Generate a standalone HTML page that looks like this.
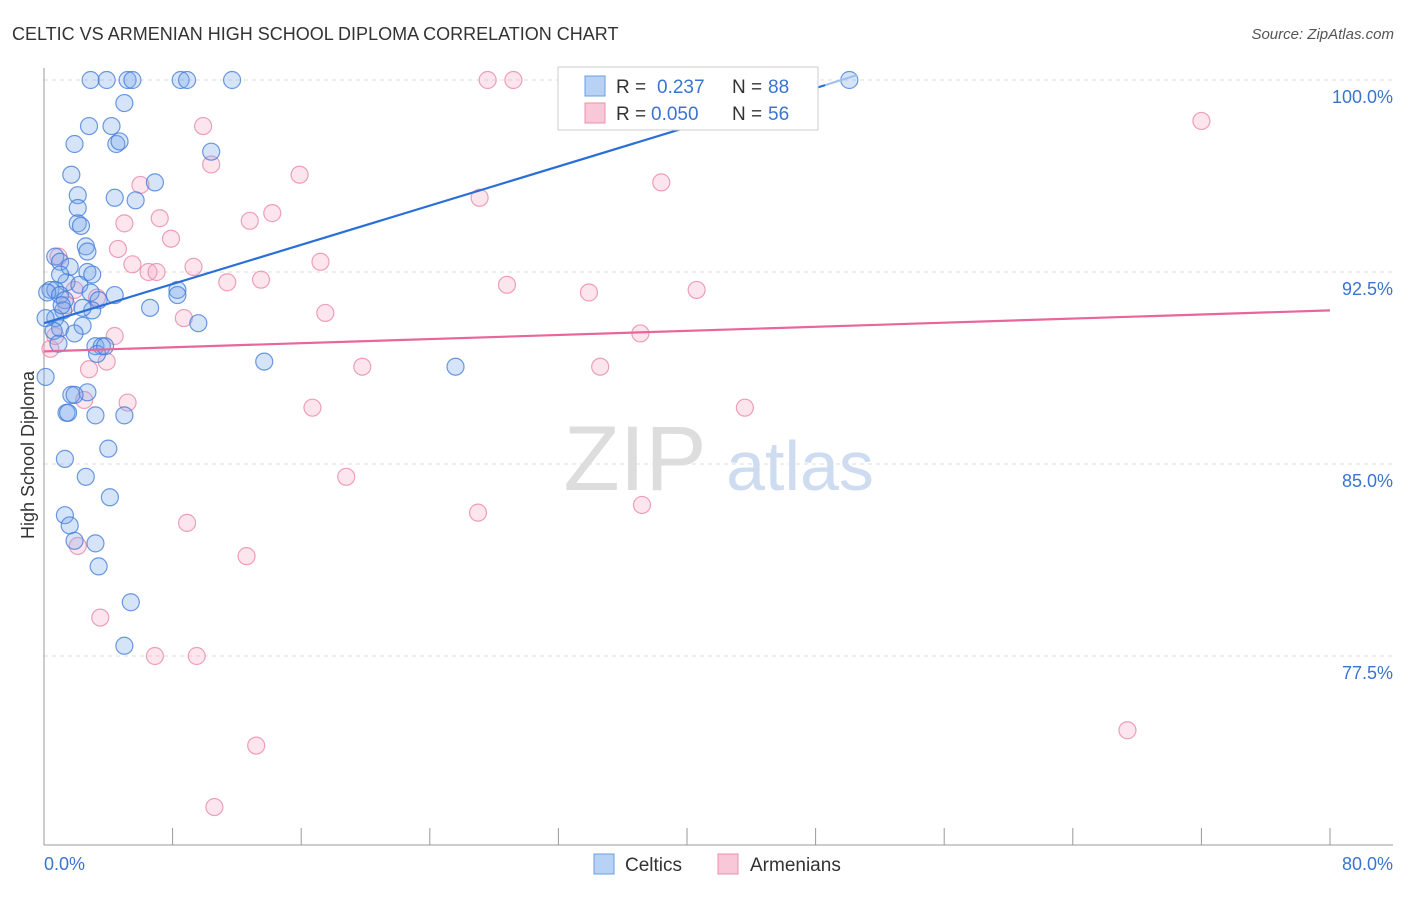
<!DOCTYPE html>
<html><head><meta charset="utf-8"><style>
body{margin:0;background:#fff;font-family:"Liberation Sans",sans-serif;}
svg text{font-family:"Liberation Sans",sans-serif;}
</style></head><body>
<svg id="c" width="1406" height="892" xmlns="http://www.w3.org/2000/svg">
<text x="12" y="40" font-size="18" fill="#333">CELTIC VS ARMENIAN HIGH SCHOOL DIPLOMA CORRELATION CHART</text>
<text x="1394" y="39" font-size="15" fill="#555" text-anchor="end" font-style="italic">Source: ZipAtlas.com</text>
<text x="34" y="455" font-size="18" fill="#333" text-anchor="middle" transform="rotate(-90 34 455)">High School Diploma</text>
<g><text x="635" y="490" font-size="92" fill="#ddd" font-family="Liberation Serif" text-anchor="middle">ZIP</text><text x="800" y="490" font-size="70" fill="#cddcf0" text-anchor="middle">atlas</text></g>
<g id="grid"></g><g id="marks"></g>
<g>
<rect x="558" y="67" width="260" height="63" fill="#fff" stroke="#ccc"/>
<rect x="585" y="76" width="20" height="20" fill="#b8d2f5" stroke="#6a9ee0"/>
<text x="616" y="93" font-size="19" fill="#333">R = </text><text x="657" y="93" font-size="19" fill="#3a74d0">0.237</text>
<text x="732" y="93" font-size="19" fill="#333">N = </text><text x="768" y="93" font-size="19" fill="#3a74d0">88</text>
<rect x="585" y="103" width="20" height="20" fill="#f9c8d8" stroke="#e890ac"/>
<text x="616" y="120" font-size="19" fill="#333">R = </text><text x="651" y="120" font-size="19" fill="#3a74d0">0.050</text>
<text x="732" y="120" font-size="19" fill="#333">N = </text><text x="768" y="120" font-size="19" fill="#3a74d0">56</text>
</g>
<g>
<rect x="594" y="854" width="20" height="20" fill="#b8d2f5" stroke="#6a9ee0"/><text x="625" y="871" font-size="19" fill="#333">Celtics</text>
<rect x="718" y="854" width="20" height="20" fill="#f9c8d8" stroke="#e890ac"/><text x="750" y="871" font-size="19" fill="#333">Armenians</text>
</g>
</svg>
<script>
const yTicks=[100,92.5,85,77.5];
const yTickLabels=["100.0%","92.5%","85.0%","77.5%"];
const xEndLabels=["0.0%","80.0%"];
const celticsX=[2.9,3.9,5.2,5.5,8.5,8.9,11.7,50.1,5.0,4.2,2.8,4.5,4.7,1.9,10.4,1.7,6.9,2.1,4.4,5.7,2.1,2.1,2.3,2.6,2.7,0.7,1.0,1.6,2.7,3.0,1.4,2.2,0.4,0.7,0.2,1.0,2.9,4.4,3.4,1.3,8.3,8.3,1.2,3.0,6.6,9.6,0.7,2.4,1.0,0.6,1.9,0.9,3.2,3.6,3.3,13.7,25.6,0.1,2.7,1.7,1.9,1.4,1.5,3.2,5.0,4.0,1.3,2.6,4.1,1.3,1.6,1.9,3.2,3.4,5.4,5.0,2.4,1.0,0.1,1.1,3.8];
const celticsY=[100,100,100,100,100,100,100,100,99.1,98.2,98.2,97.5,97.6,97.5,97.2,96.3,96.0,95.5,95.4,95.3,95.0,94.4,94.3,93.5,93.3,93.1,92.9,92.7,92.5,92.4,92.1,92.0,91.8,91.8,91.7,91.6,91.7,91.6,91.4,91.4,91.8,91.6,91.0,91.0,91.1,90.5,90.7,90.4,90.3,90.2,90.1,89.7,89.6,89.6,89.3,89.0,88.8,88.4,87.8,87.7,87.7,87.0,87.0,86.9,86.9,85.6,85.2,84.5,83.7,83.0,82.6,82.0,81.9,81.0,79.6,77.9,91.1,92.4,90.7,91.2,89.6];
const armX=[32.8,27.6,29.2,72.0,9.9,10.4,6.0,15.9,38.4,27.1,7.2,14.2,5.0,12.8,7.9,4.6,0.9,5.5,6.5,7.0,9.3,17.2,13.5,11.4,28.8,33.9,40.6,3.3,1.4,8.7,17.5,4.4,37.1,0.4,3.9,19.8,34.6,2.8,5.2,16.7,43.6,2.5,18.8,27.0,37.2,8.9,2.1,12.6,3.5,6.9,9.5,67.4,13.2,10.6,0.7,1.9];
const armY=[100,100,100,98.4,98.2,96.7,95.9,96.3,96.0,95.4,94.6,94.8,94.4,94.5,93.8,93.4,93.1,92.8,92.5,92.5,92.7,92.9,92.2,92.1,92.0,91.7,91.8,91.5,91.2,90.7,90.9,90.0,90.1,89.5,89.0,88.8,88.8,88.7,87.4,87.2,87.2,87.5,84.5,83.1,83.4,82.7,81.8,81.4,79.0,77.5,77.5,74.6,74.0,71.6,90.0,91.8];
const celticsTrend=[[0,90.5],[48.6,99.8]];
const celticsTrendExt=[[48.6,99.8],[50.6,100.2]];
const armTrend=[[0,89.4],[80,91.0]];
const NS="http://www.w3.org/2000/svg";
const X=v=>44+v/80*1286, Y=v=>80+(100-v)*25.6;
function mk(t,a,p){const e=document.createElementNS(NS,t);for(const k in a)e.setAttribute(k,a[k]);p.appendChild(e);return e;}
const g=document.getElementById('grid'), m=document.getElementById('marks');
yTicks.forEach((t,i)=>{
 const l=mk('line',{x1:44,x2:1393,y1:Y(t),y2:Y(t),stroke:'#ddd','stroke-dasharray':'4,4'},g);
 
 
 const tx=mk('text',{x:1393,y:Y(t)+23,'font-size':18,fill:'#3a74d0','text-anchor':'end'},g);tx.textContent=yTickLabels[i];
 
 
});
const ax=mk('line',{x1:44,x2:44,y1:68,y2:845,stroke:'#999'},g);


const bx=mk('line',{x1:44,x2:1393,y1:845,y2:845,stroke:'#999'},g);


for(let i=1;i<=10;i++){const t=mk('line',{x1:X(i*8),x2:X(i*8),y1:828,y2:845,stroke:'#999'},g);
 
 }
[[0,'start'],[80,'end']].forEach((d,i)=>{const t=mk('text',{x:d[0]?1393:44,y:870,'font-size':18,fill:'#3a74d0','text-anchor':d[1]},g);t.textContent=xEndLabels[i];
 
 });
armX.forEach((v,i)=>{const c=mk('circle',{cx:X(v),cy:Y(armY[i]),r:8.5,fill:'rgba(244,160,190,0.28)',stroke:'rgba(232,130,165,0.75)','stroke-width':1.2},m);
 
 });
celticsX.forEach((v,i)=>{const c=mk('circle',{cx:X(v),cy:Y(celticsY[i]),r:8.5,fill:'rgba(120,165,235,0.3)',stroke:'rgba(60,120,215,0.75)','stroke-width':1.2},m);
 
 });
const t1=mk('line',{x1:X(celticsTrend[0][0]),y1:Y(celticsTrend[0][1]),x2:X(celticsTrend[1][0]),y2:Y(celticsTrend[1][1]),stroke:'#2a6fd6','stroke-width':2.2},m);


const t1b=mk('line',{x1:X(celticsTrendExt[0][0]),y1:Y(celticsTrendExt[0][1]),x2:X(celticsTrendExt[1][0]),y2:Y(celticsTrendExt[1][1]),stroke:'#9ec0ee','stroke-width':2},m);


const t2=mk('line',{x1:X(armTrend[0][0]),y1:Y(armTrend[0][1]),x2:X(armTrend[1][0]),y2:Y(armTrend[1][1]),stroke:'#e8669a','stroke-width':2.2},m);


</script>
</body></html>
